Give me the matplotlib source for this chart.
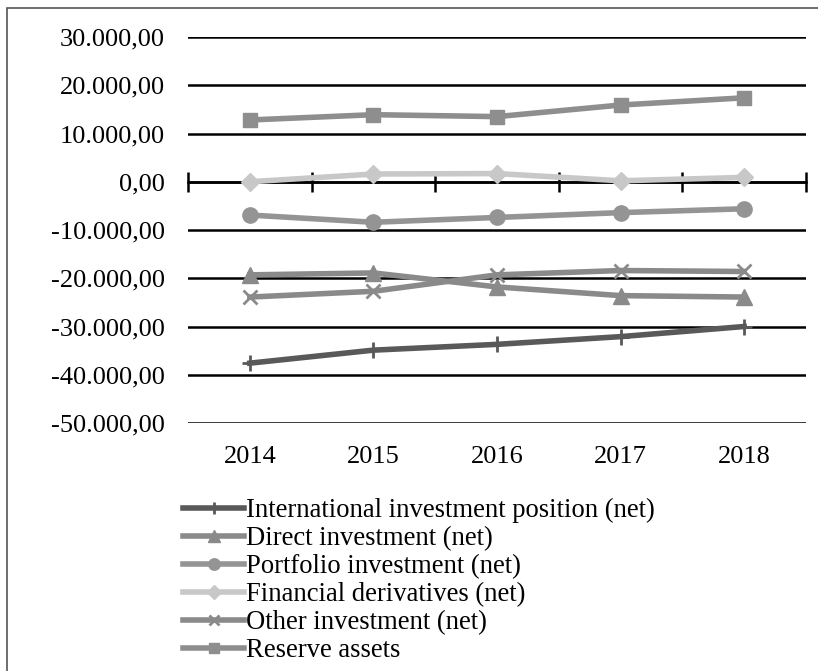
import matplotlib
matplotlib.use("Agg")
import matplotlib.pyplot as plt
from matplotlib.patches import Rectangle
from matplotlib.ticker import FuncFormatter
import matplotlib.transforms as mtransforms

years = ["2014", "2015", "2016", "2017", "2018"]

intl_position = [-37600, -34900, -33700, -32100, -30000]
direct_inv = [-19300, -18900, -21800, -23600, -23900]
portfolio_inv = [-6900, -8400, -7400, -6400, -5600]
fin_derivatives = [0, 1600, 1700, 200, 900]
other_inv = [-23900, -22700, -19300, -18400, -18600]
reserve_assets = [12800, 13900, 13500, 15900, 17400]

series = [
    ("International investment position (net)", intl_position, "#595959", "+", 12),
    ("Direct investment (net)", direct_inv, "#8a8a8a", "^", 11),
    ("Portfolio investment (net)", portfolio_inv, "#949494", "o", 11),
    ("Financial derivatives (net)", fin_derivatives, "#c8c8c8", "D", 9),
    ("Other investment (net)", other_inv, "#8a8a8a", "x", 10),
    ("Reserve assets", reserve_assets, "#8e8e8e", "s", 10),
]

plt.rcParams["font.family"] = ["Liberation Serif", "DejaVu Serif"]

fig = plt.figure(figsize=(8.18, 6.71), dpi=100)
ax = fig.add_axes([188 / 818, 1 - 423 / 671, 618 / 818, 386 / 671])

# outer frame (only left/top edges visible in the source crop)
fig.patches.append(Rectangle((7 / 818, -0.1), 1.2, 1 - 8 / 671 + 0.1,
                             transform=fig.transFigure, fill=False,
                             edgecolor="#555555", linewidth=1.2))

x = list(range(len(years)))
handles = []
for label, vals, color, marker, ms in series:
    mew = 2 if marker in ("+", "x") else 1
    h, = ax.plot(x, vals, color=color, linewidth=4, marker=marker,
                 markersize=ms, markeredgewidth=mew, markeredgecolor=color,
                 markerfacecolor=color, label=label, zorder=3)
    handles.append(h)

ax.set_xlim(-0.5, len(years) - 0.5)
ax.set_ylim(-50000, 30000)
ax.set_yticks(range(-50000, 30001, 10000))
ax.yaxis.set_major_formatter(FuncFormatter(
    lambda v, p: f"{v:,.2f}".replace(",", "X").replace(".", ",").replace("X", ".")))
ax.tick_params(axis="y", length=0, pad=16.5, labelsize=19)
ax.grid(axis="y", color="black", linewidth=1.8, zorder=1)
ax.set_axisbelow(True)

for s in ("left", "right", "top"):
    ax.spines[s].set_visible(False)
ax.spines["bottom"].set_position(("data", 0))
ax.spines["bottom"].set_linewidth(1.8)
ax.spines["bottom"].set_zorder(2)
ax.set_xticks([i - 0.5 for i in range(len(years) + 1)])
ax.set_xticklabels([])
ax.tick_params(axis="x", direction="inout", length=15, width=1.8)

trans = mtransforms.blended_transform_factory(ax.transData, ax.transAxes)
for i, yr in enumerate(years):
    ax.text(i, -0.088, yr, transform=trans, ha="center", va="center", fontsize=19)

fig.legend(handles=handles, loc="upper left",
           bbox_to_anchor=(183 / 818, 1 - 498 / 671), frameon=False,
           fontsize=19.2, handlelength=2.3, handletextpad=0.08,
           labelspacing=0.11, borderaxespad=0, borderpad=0, markerscale=0.75)

fig.savefig("out.png", dpi=100)
